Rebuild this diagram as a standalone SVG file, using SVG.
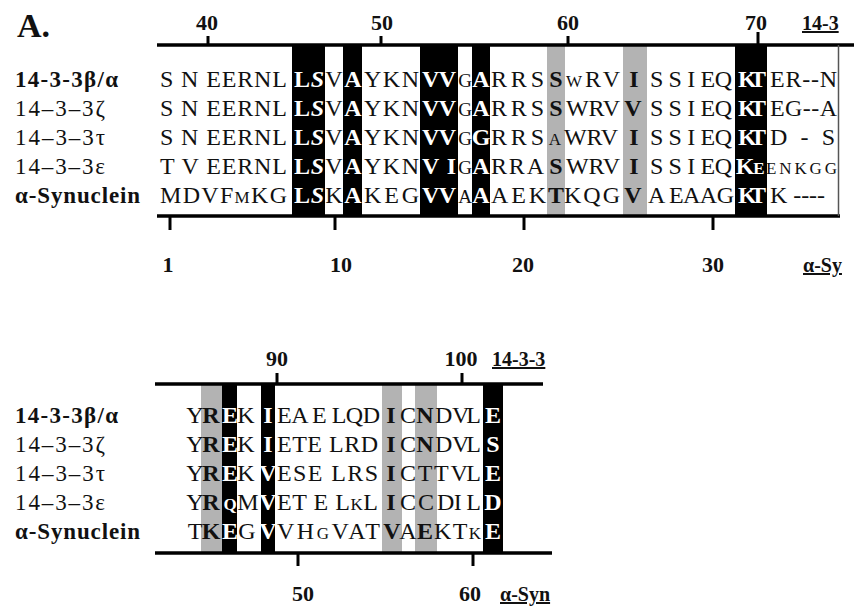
<svg xmlns="http://www.w3.org/2000/svg" width="854" height="606" viewBox="0 0 854 606">
<style>
text{font-family:"Liberation Serif","Times New Roman",serif;fill:#111}
.s{font-size:24px}
.m{text-anchor:middle}
.b{font-weight:bold}
.w{fill:#fff;font-weight:bold}
.sm{font-size:17px}
.nr{font-size:19px}
.lab{font-size:23px}
.num{font-size:22px;font-weight:bold;text-anchor:middle}
.ul{font-size:20px;font-weight:bold;text-decoration:underline}
.ax{stroke:#000;stroke-width:3.5;fill:none}
.tk{stroke:#000;stroke-width:3}
.blk{fill:#000}
.gry{fill:#b3b3b3}
</style>
<rect width="854" height="606" fill="#fff"/>
<text x="17" y="37" font-size="34" font-weight="bold">A.</text>

<g id="block-top">
  <g id="top-columns-gray">
    <rect class="gry" x="547" y="45" width="18" height="171"/>
    <rect class="gry" x="623" y="45" width="24" height="171"/>
  </g>
  <g id="top-labels" class="lab">
    <text x="15" y="87" class="b" textLength="103">14-3-3β/α</text>
    <text x="15" y="116" textLength="90">14–3–3ζ</text>
    <text x="15" y="145" textLength="90">14–3–3τ</text>
    <text x="15" y="174" textLength="90">14–3–3ε</text>
    <text x="15" y="203" class="b" textLength="125">α-Synuclein</text>
  </g>
  <g id="top-seq-dark" class="s">
    <text x="160" y="87" textLength="127">S N EERNL</text>
    <text x="334" y="87" class="m">V</text>
    <text x="364" y="87" textLength="55">YKN</text>
    <text x="465" y="87" class="m nr">G</text>
    <text x="491" y="87" textLength="53">RRS</text>
    <text x="556" y="87" class="m b">S</text>
    <text x="574" y="87" class="m sm">W</text>
    <text x="585" y="87" textLength="35">RV</text>
    <text x="634" y="87" class="m b">I</text>
    <text x="650" y="87" textLength="82">S S I EQ</text>
    <text x="770" y="87" textLength="67">ER--N</text>

    <text x="160" y="116" textLength="127">S N EERNL</text>
    <text x="334" y="116" class="m">V</text>
    <text x="364" y="116" textLength="55">YKN</text>
    <text x="465" y="116" class="m nr">G</text>
    <text x="491" y="116" textLength="53">RRS</text>
    <text x="556" y="116" class="m b">S</text>
    <text x="566" y="116" textLength="54">WRV</text>
    <text x="633" y="116" class="m b">V</text>
    <text x="650" y="116" textLength="82">S S I EQ</text>
    <text x="770" y="116" textLength="67">EG--A</text>

    <text x="160" y="145" textLength="127">S N EERNL</text>
    <text x="334" y="145" class="m">V</text>
    <text x="364" y="145" textLength="55">YKN</text>
    <text x="465" y="145" class="m nr">G</text>
    <text x="491" y="145" textLength="53">RRS</text>
    <text x="555" y="145" class="m sm">A</text>
    <text x="564" y="145" textLength="54">WRV</text>
    <text x="634" y="145" class="m b">I</text>
    <text x="650" y="145" textLength="82">S S I EQ</text>
    <text x="770" y="145" textLength="65">D - S</text>

    <text x="160" y="174" textLength="127">T V EERNL</text>
    <text x="334" y="174" class="m">V</text>
    <text x="364" y="174" textLength="55">YKN</text>
    <text x="465" y="174" class="m nr">G</text>
    <text x="491" y="174" textLength="53">RRA</text>
    <text x="556" y="174" class="m b">S</text>
    <text x="566" y="174" textLength="54">WRV</text>
    <text x="634" y="174" class="m b">I</text>
    <text x="650" y="174" textLength="82">S S I EQ</text>
    <text x="766" y="174" class="sm" textLength="71">ENKGG</text>

    <text x="160" y="203" textLength="127">MDVF<tspan class="sm">M</tspan>KG</text>
    <text x="334" y="203" class="m">K</text>
    <text x="364" y="203" textLength="55">KEG</text>
    <text x="465" y="203" class="m nr">A</text>
    <text x="491" y="203" textLength="55">AEK</text>
    <text x="556" y="203" class="m b">T</text>
    <text x="564" y="203" textLength="56">KQG</text>
    <text x="633" y="203" class="m b">V</text>
    <text x="648" y="203" textLength="86">A EAAG</text>
    <text x="770" y="203" textLength="55">K ----</text>
  </g>
  <g id="top-columns-black">
    <rect class="blk" x="292" y="45" width="33" height="171"/>
    <rect class="blk" x="343" y="45" width="19" height="171"/>
    <rect class="blk" x="420" y="45" width="38" height="171"/>
    <rect class="blk" x="472" y="45" width="18" height="171"/>
    <rect class="blk" x="735" y="45" width="32" height="171"/>
  </g>
  <g id="top-seq-white" class="s">
    <text x="294" y="87" class="w" textLength="30">L<tspan font-style="italic">S</tspan></text>
    <text x="353" y="87" class="w m">A</text>
    <text x="422" y="87" class="w" textLength="34">VV</text>
    <text x="481" y="87" class="w m">A</text>
    <text x="738" y="87" class="w" textLength="28">KT</text>

    <text x="294" y="116" class="w" textLength="30">L<tspan font-style="italic">S</tspan></text>
    <text x="353" y="116" class="w m">A</text>
    <text x="422" y="116" class="w" textLength="34">VV</text>
    <text x="481" y="116" class="w m">A</text>
    <text x="738" y="116" class="w" textLength="28">KT</text>

    <text x="294" y="145" class="w" textLength="30">L<tspan font-style="italic">S</tspan></text>
    <text x="353" y="145" class="w m">A</text>
    <text x="422" y="145" class="w" textLength="34">VV</text>
    <text x="481" y="145" class="w m">G</text>
    <text x="738" y="145" class="w" textLength="28">KT</text>

    <text x="294" y="174" class="w" textLength="30">L<tspan font-style="italic">S</tspan></text>
    <text x="353" y="174" class="w m">A</text>
    <text x="422" y="174" class="w" textLength="34">V I</text>
    <text x="481" y="174" class="w m">A</text>
    <text x="745" y="174" class="w m">K</text>
    <text x="759" y="174" class="w m sm">E</text>

    <text x="294" y="203" class="w" textLength="30">L<tspan font-style="italic">S</tspan></text>
    <text x="353" y="203" class="w m">A</text>
    <text x="422" y="203" class="w" textLength="34">VV</text>
    <text x="481" y="203" class="w m">A</text>
    <text x="738" y="203" class="w" textLength="28">KT</text>
  </g>
  <g id="top-axes">
    <line class="ax" x1="157" y1="45" x2="854" y2="45"/>
    <line class="ax" x1="157" y1="216" x2="840" y2="216"/>
    <line x1="838.5" y1="45" x2="838.5" y2="216" stroke="#555" stroke-width="1.5"/>
    <line class="tk" x1="208" y1="45" x2="208" y2="36"/>
    <line class="tk" x1="381" y1="45" x2="381" y2="36"/>
    <line class="tk" x1="568" y1="45" x2="568" y2="36"/>
    <line class="tk" x1="758" y1="45" x2="758" y2="32"/>
    <line class="tk" x1="170" y1="216" x2="170" y2="230"/>
    <line class="tk" x1="335" y1="216" x2="335" y2="230"/>
    <line class="tk" x1="524" y1="216" x2="524" y2="230"/>
    <line class="tk" x1="713" y1="216" x2="713" y2="230"/>
    <text class="num" x="207" y="30">40</text>
    <text class="num" x="382" y="30">50</text>
    <text class="num" x="568" y="30">60</text>
    <text class="num" x="756" y="30">70</text>
    <text class="ul" x="802" y="30">14-3</text>
    <text class="num" x="168" y="272">1</text>
    <text class="num" x="341" y="272">10</text>
    <text class="num" x="523" y="272">20</text>
    <text class="num" x="713" y="272">30</text>
    <text class="ul" x="803" y="272">α-Sy</text>
  </g>
</g>

<g id="block-bottom">
  <g id="bottom-columns-gray">
    <rect class="gry" x="201" y="384" width="21" height="169"/>
    <rect class="gry" x="382" y="384" width="20" height="169"/>
    <rect class="gry" x="415" y="384" width="22" height="169"/>
  </g>
  <g id="bottom-labels" class="lab">
    <text x="15" y="423" class="b" textLength="103">14-3-3β/α</text>
    <text x="15" y="452" textLength="90">14–3–3ζ</text>
    <text x="15" y="481" textLength="90">14–3–3τ</text>
    <text x="15" y="510" textLength="90">14–3–3ε</text>
    <text x="15" y="539" class="b" textLength="125">α-Synuclein</text>
  </g>
  <g id="bottom-seq-dark" class="s">
    <text x="195" y="423" class="m">Y</text>
    <text x="211" y="423" class="m b">R</text>
    <text x="246" y="423" class="m">K</text>
    <text x="277" y="423" textLength="103">EA E LQD</text>
    <text x="391" y="423" class="m b">I</text>
    <text x="408" y="423" class="m">C</text>
    <text x="425" y="423" class="m b">N</text>
    <text x="435" y="423" textLength="46">D VL</text>

    <text x="195" y="452" class="m">Y</text>
    <text x="211" y="452" class="m b">R</text>
    <text x="246" y="452" class="m">K</text>
    <text x="277" y="452" textLength="101">ETE LRD</text>
    <text x="391" y="452" class="m b">I</text>
    <text x="408" y="452" class="m">C</text>
    <text x="425" y="452" class="m b">N</text>
    <text x="435" y="452" textLength="46">D VL</text>

    <text x="195" y="481" class="m">Y</text>
    <text x="211" y="481" class="m b">R</text>
    <text x="246" y="481" class="m">K</text>
    <text x="277" y="481" textLength="101">ESE LRS</text>
    <text x="391" y="481" class="m b">I</text>
    <text x="408" y="481" class="m">C</text>
    <text x="425" y="481" class="m">T</text>
    <text x="434" y="481" textLength="47">T VL</text>

    <text x="195" y="510" class="m">Y</text>
    <text x="211" y="510" class="m b">R</text>
    <text x="248" y="510" class="m">M</text>
    <text x="277" y="510" textLength="101">ET E L<tspan class="sm">K</tspan>L</text>
    <text x="391" y="510" class="m b">I</text>
    <text x="408" y="510" class="m">C</text>
    <text x="426" y="510" class="m">C</text>
    <text x="437" y="510" textLength="44">DI L</text>

    <text x="195" y="539" class="m">T</text>
    <text x="211" y="539" class="m b">K</text>
    <text x="247" y="539" class="m">G</text>
    <text x="277" y="539" textLength="103">VH<tspan class="sm">G</tspan>VAT</text>
    <text x="392" y="539" class="m b">V</text>
    <text x="408" y="539" class="m">A</text>
    <text x="425" y="539" class="m b">E</text>
    <text x="434" y="539" textLength="47">KT<tspan class="sm">K</tspan></text>
  </g>
  <g id="bottom-columns-black">
    <rect class="blk" x="222" y="384" width="15" height="169"/>
    <rect class="blk" x="261" y="384" width="14" height="169"/>
    <rect class="blk" x="483" y="384" width="20" height="169"/>
  </g>
  <g id="bottom-seq-white" class="s">
    <text x="230" y="423" class="w m">E</text>
    <text x="268" y="423" class="w m">I</text>
    <text x="493" y="423" class="w m">E</text>
    <text x="230" y="452" class="w m">E</text>
    <text x="268" y="452" class="w m">I</text>
    <text x="493" y="452" class="w m">S</text>
    <text x="230" y="481" class="w m">E</text>
    <text x="268" y="481" class="w m">V</text>
    <text x="493" y="481" class="w m">E</text>
    <text x="230" y="510" class="w m sm">Q</text>
    <text x="268" y="510" class="w m">V</text>
    <text x="493" y="510" class="w m">D</text>
    <text x="230" y="539" class="w m">E</text>
    <text x="268" y="539" class="w m">V</text>
    <text x="493" y="539" class="w m">E</text>
  </g>
  <g id="bottom-axes">
    <line class="ax" x1="155" y1="384" x2="543" y2="384"/>
    <line class="ax" x1="155" y1="553" x2="552" y2="553"/>
    <line class="tk" x1="277" y1="384" x2="277" y2="373"/>
    <line class="tk" x1="462" y1="384" x2="462" y2="373"/>
    <line class="tk" x1="298" y1="553" x2="298" y2="566"/>
    <line class="tk" x1="473" y1="553" x2="473" y2="566"/>
    <text class="num" x="277" y="366">90</text>
    <text class="num" x="461" y="366">100</text>
    <text class="ul" x="492" y="366">14-3-3</text>
    <text class="num" x="303" y="601">50</text>
    <text class="num" x="470" y="601">60</text>
    <text class="ul" x="500" y="601">α-Syn</text>
  </g>
</g>
</svg>
